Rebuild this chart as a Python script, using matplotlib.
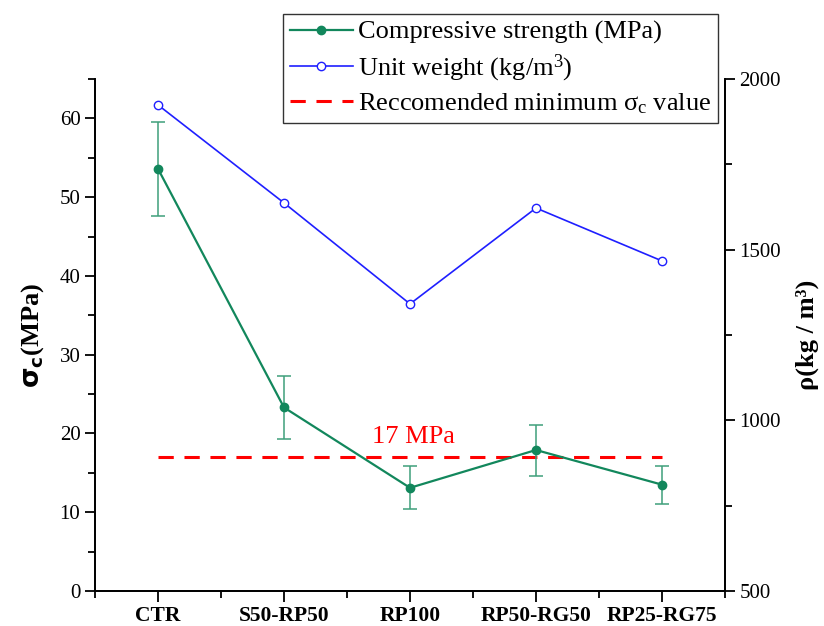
import matplotlib
matplotlib.use("Agg")
import matplotlib.pyplot as plt
import numpy as np
from matplotlib.ticker import MultipleLocator, FixedLocator

plt.rcParams['font.family'] = ['Liberation Serif', 'DejaVu Serif']
plt.rcParams['mathtext.fontset'] = 'custom'
plt.rcParams['mathtext.rm'] = 'Liberation Serif'
plt.rcParams['mathtext.it'] = 'Liberation Serif:italic'
plt.rcParams['mathtext.bf'] = 'DejaVu Sans:bold'

categories = ["CTR", "S50-RP50", "RP100", "RP50-RG50", "RP25-RG75"]
strength = [53.6, 23.3, 13.1, 17.9, 13.5]
strength_err_low = [6.0, 4.0, 2.7, 3.3, 2.4]
strength_err_high = [6.0, 4.0, 2.8, 3.2, 2.4]
unit_weight = [1924, 1637, 1341, 1622, 1467]
min_strength = 17

green = "#12875c"
green_err = "#3f9f7a"
blue = "#1f1fff"
red = "#ff0000"

fig = plt.figure(figsize=(8.24, 6.26), dpi=100)
ax = fig.add_axes([95/824, 1-591/626, 630/824, 512/626])
ax2 = ax.twinx()

x = np.arange(len(categories))

ax.plot([x[0], x[-1]], [min_strength, min_strength], color=red, lw=2.2,
        dashes=(5, 3.5), zorder=2, label=r"Reccomended minimum σ$_\mathrm{c}$ value")
ax.errorbar(x, strength, yerr=[strength_err_low, strength_err_high], fmt='none',
            ecolor=green_err, elinewidth=1.1, capsize=5, capthick=1.1, zorder=3)
l1, = ax.plot(x, strength, color=green, lw=1.6, marker='o', markersize=6,
              zorder=4, label="Compressive strength (MPa)")
l2, = ax2.plot(x, unit_weight, color=blue, lw=1.2, marker='o', markersize=6,
               markerfacecolor='white', markeredgecolor=blue, markeredgewidth=1.0,
               label="Unit weight (kg/m$^3$)")

ax.text(2.03, min_strength + 1.2, "17 MPa", color=red, fontsize=19, ha='center', va='bottom')

ax.set_xlim(-0.5, 4.5)
ax.set_ylim(0, 65)
ax2.set_ylim(500, 2000)

ax.set_xticks(x)
ax.set_xticklabels(categories, fontsize=15.5, fontweight='bold')
ax.xaxis.set_minor_locator(FixedLocator(np.arange(-0.5, 4.6, 1.0)))
ax.yaxis.set_major_locator(MultipleLocator(10))
ax.yaxis.set_minor_locator(MultipleLocator(5))
ax2.yaxis.set_major_locator(MultipleLocator(500))
ax2.yaxis.set_minor_locator(MultipleLocator(250))

for a in (ax, ax2):
    a.spines['top'].set_visible(False)
    for s in a.spines.values():
        s.set_linewidth(1.3)
ax.tick_params(axis='both', which='major', direction='out', length=8, width=1.3, labelsize=15)
ax.tick_params(axis='both', which='minor', direction='out', length=5, width=1.3)
ax.tick_params(axis='x', which='major', pad=3, labelsize=15.5)
ax.tick_params(axis='y', which='major', length=7)
ax2.tick_params(axis='y', which='major', direction='out', length=7, width=1.3, labelsize=15)
ax2.tick_params(axis='y', which='minor', direction='out', length=5, width=1.3)

ax.set_ylabel(r"$\mathbf{\sigma_c}$(MPa)", fontsize=19, fontweight='bold', labelpad=10)
ax2.set_ylabel("ρ(kg / m³)", fontsize=19, fontweight='bold', labelpad=10)

handles = [l1, l2, ax.lines[0]]
leg = fig.legend(handles=handles, loc='upper left', bbox_to_anchor=(283/824, 1-14/626),
                 bbox_transform=fig.transFigure, fontsize=19, frameon=True, fancybox=False,
                 edgecolor='black', borderaxespad=0, handlelength=2.4, handletextpad=0.2,
                 labelspacing=0.3, borderpad=0.25)
leg.get_frame().set_linewidth(1.0)

fig.savefig("out.png", dpi=100)
